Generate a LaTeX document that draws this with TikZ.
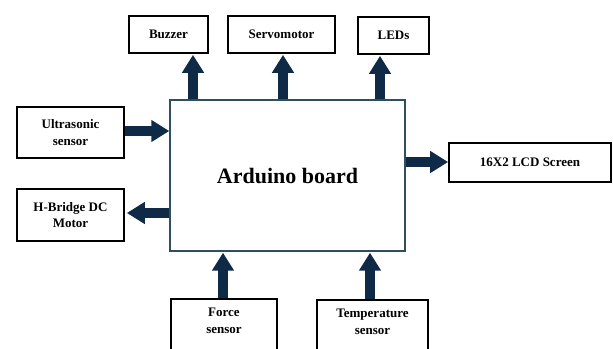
\documentclass[tikz,border=0pt]{standalone}
\usepackage{fontspec}
\setmainfont{Liberation Serif}
\usetikzlibrary{arrows.meta}
\definecolor{arrowc}{HTML}{0E2A47}
\definecolor{mainc}{HTML}{2F4F5F}
\begin{document}
\begin{tikzpicture}[x=1pt,y=-1pt,
  box/.style={draw=black, line width=1.7pt, fill=white, inner sep=0pt, align=center,
    font=\bfseries\fontsize{13}{16.5}\selectfont},
  lbl/.style={inner sep=0pt, align=center, font=\bfseries\fontsize{13}{16.5}\selectfont},
  arr/.style={draw=arrowc, line width=9.5pt, -{Triangle[width=21pt,length=18pt]}}]
\useasboundingbox (0,0) rectangle (613,348);
\clip (0,0) rectangle (613,348);
% main board
\node[draw=mainc, line width=1.4pt, minimum width=235pt, minimum height=151pt, inner sep=0pt,
  font=\bfseries\fontsize{22}{26}\selectfont] (main) at (287.5,175.5) {Arduino board};
% outputs on top
\node[box, minimum width=79pt, minimum height=37pt] (buzz) at (168.5,34.5) {Buzzer};
\node[box, minimum width=107pt, minimum height=37pt] (servo) at (281.5,34.5) {Servomotor};
\node[box, minimum width=71pt, minimum height=37pt] (leds) at (393.5,35.5) {LEDs};
% left
\node[box, minimum width=107pt, minimum height=51pt] (ultra) at (70.5,132.5) {Ultrasonic\\sensor};
\node[box, minimum width=107pt, minimum height=52pt] (hbr) at (70.5,215) {H-Bridge DC\\Motor};
% right
\node[box, minimum width=162pt, minimum height=39pt] (lcd) at (530,162.5) {16X2 LCD Screen};
% bottom (cut off by the picture edge)
\node[box, minimum width=106pt, minimum height=80pt, anchor=north,
  label={[lbl, anchor=north, yshift=-10pt]north:Force\\sensor}] (force) at (224,298) {};
\node[box, minimum width=111pt, minimum height=80pt, anchor=north,
  label={[lbl, anchor=north, yshift=-10pt]north:Temperature\\sensor}] (temp) at (372.5,299) {};
% connector positions
\coordinate (xb) at (193,0);
\coordinate (xs) at (283,0);
\coordinate (xl) at (380,0);
\coordinate (xf) at (223,0);
\coordinate (xt) at (370,0);
\coordinate (yu) at (0,131);
\coordinate (yh) at (0,213);
\coordinate (yc) at (0,162);
% arrows
\draw[arr, shorten >=1pt] (main.north -| xb) -- (buzz.south -| xb);
\draw[arr, shorten >=1pt] (main.north -| xs) -- (servo.south -| xs);
\draw[arr, shorten >=1pt] (main.north -| xl) -- (leds.south -| xl);
\draw[arr] (ultra.east |- yu) -- (main.west |- yu);
\draw[arr, shorten >=2pt] (main.west |- yh) -- (hbr.east |- yh);
\draw[arr] (main.east |- yc) -- (lcd.west |- yc);
\draw[arr, shorten >=1pt] (force.north -| xf) -- (main.south -| xf);
\draw[arr, shorten >=1pt] (temp.north -| xt) -- (main.south -| xt);
\end{tikzpicture}
\end{document}
